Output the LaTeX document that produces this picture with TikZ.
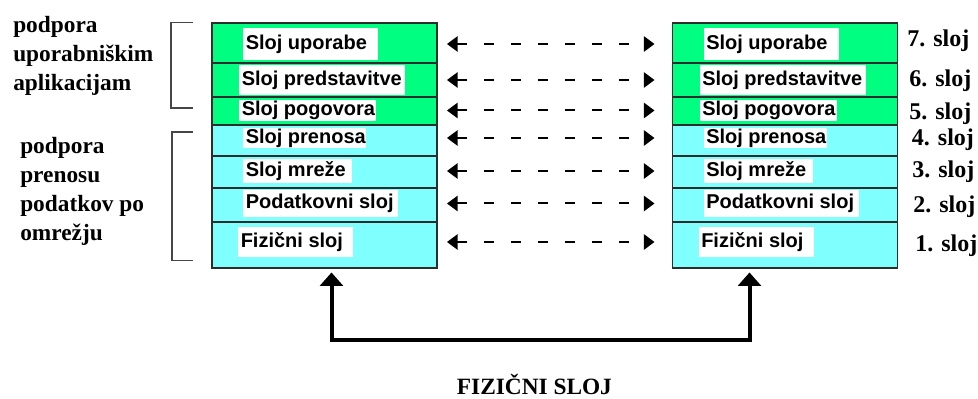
\documentclass[tikz,border=0pt]{standalone}
\usepackage{fontspec}
\setmainfont{Liberation Serif}
\setsansfont{Liberation Sans}
\usetikzlibrary{arrows.meta,calc}

\definecolor{layergreen}{RGB}{0,255,128}
\definecolor{layercyan}{RGB}{128,255,255}
\definecolor{edgegray}{RGB}{45,45,45}
\definecolor{bracketgray}{RGB}{70,70,70}

% one drawing unit
\newlength\pxu
\setlength\pxu{0.75pt}

\begin{document}
\begin{tikzpicture}[x=0.75pt,y=-0.75pt,
  layer/.style={draw=edgegray, line width=1.1pt, minimum width={225*0.75pt},
                inner sep=0pt, outer sep=0pt, anchor=north west},
  tag/.style={fill=white, anchor=west, inner sep=0pt,
              font=\sffamily\bfseries\fontsize{15}{18}\selectfont},
  side/.style={font=\rmfamily\bfseries\fontsize{17.5}{21.75}\selectfont,
               align=left, anchor=base west, inner sep=0pt},
  num/.style={font=\rmfamily\bfseries\fontsize{18}{20}\selectfont,
              anchor=base west, inner sep=0pt},
  peer/.style={line width=1.5pt, dash pattern=on 7.5pt off 12.75pt,
               {Triangle[length=8pt,width=11.5pt]}-{Triangle[length=8pt,width=11.5pt]},
               shorten <=7.5pt, shorten >=13.5pt},
  bus/.style={line width=3pt,
              {Triangle[length=10pt,width=17pt]}-{Triangle[length=10pt,width=17pt]}},
  bracket/.style={draw=bracketgray, line width=1pt}
]
\useasboundingbox (0,0) rectangle (978,399);

% two identical protocol stacks, layer 7 on top
\foreach \side/\xo in {L/212, R/672.5} {
  \foreach \k/\top/\bot/\col/\txt/\ty/\th/\tx/\bw in {
      7/23/63/layergreen/Sloj uporabe/44/32/31/135,
      6/63/97/layergreen/Sloj predstavitve/80/30/27/166,
      5/97/125/layergreen/Sloj pogovora/110.5/21/27/137,
      4/125/156/layercyan/Sloj prenosa/138/20/31/123,
      3/156/188/layercyan/Sloj mreže/171/24/31/109,
      2/188/222/layercyan/Podatkovni sloj/203.5/27/31/155,
      1/222/268/layercyan/Fizični sloj/242/30/26/115} {
    \node[layer, fill=\col, minimum height={(\bot-\top)*0.75pt}] (\side\k) at (\xo,\top) {};
    \node[tag, minimum height={\th*0.75pt}] (\side T\k) at (\xo+\tx,\ty)
      {\makebox[\bw\pxu][l]{\hspace*{2.5\pxu}\txt}};
  }
}

% peer-to-peer links between equal layers
\foreach \k in {1,...,7}
  \draw[peer] (L\k.east |- LT\k.center) -- (R\k.west |- RT\k.center);

% physical connection below the stacks
\draw[bus] ($(L1.south)+(7,4.5)$) -- ($(L1.south)+(7,72)$) -| ($(R1.south)+(-35.5,4.5)$);

% grouping brackets
\draw[bracket] (193,22.7) -- (171,22.7) -- (171,108) -- (193,108);
\draw[bracket] (193,132) -- (172,132) -- (172,260.7) -- (193,260.7);

% group captions (anchored on the baseline of their last line)
\node[side] (grpApp) at (13,90.7) {podpora\\uporabniškim\\aplikacijam};
\node[side] (grpNet) at (20,240.7) {podpora\\prenosu\\podatkov po\\omrežju};

% layer numbers
\node[num] (n7) at (907,46.7) {7. sloj};
\node[num] (n6) at (909,86.7) {6. sloj};
\node[num] (n5) at (909,119.3) {5. sloj};
\node[num] (n4) at (911.7,146) {4. sloj};
\node[num] (n3) at (912,178) {3. sloj};
\node[num] (n2) at (913,213) {2. sloj};
\node[num] (n1) at (915,251.7) {1. sloj};

\node[num, font=\rmfamily\bfseries\fontsize{17.5}{20}\selectfont] (phys) at (456.7,394.5) {FIZIČNI SLOJ};
\end{tikzpicture}
\end{document}
